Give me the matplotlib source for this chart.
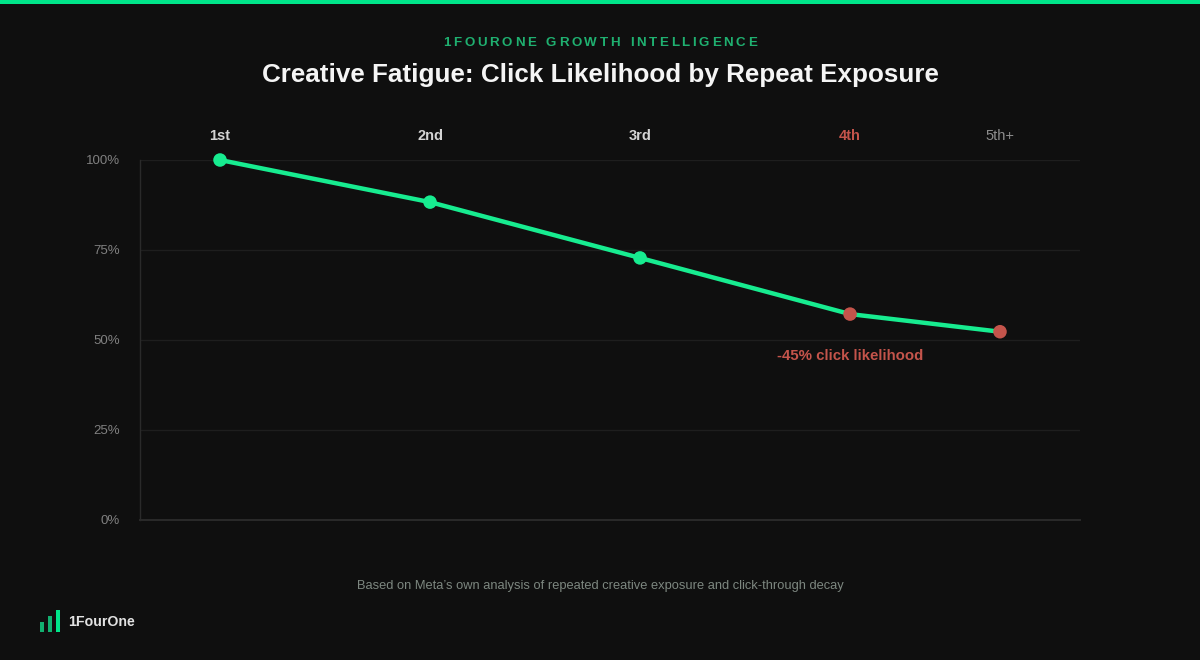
import matplotlib
matplotlib.use('Agg')
import matplotlib.pyplot as plt
from matplotlib.patches import Rectangle

plt.rcParams['font.family'] = ['Liberation Sans', 'DejaVu Sans']

# data
exposures = ['1st', '2nd', '3rd', '4th', '5th+']
click_likelihood = [100, 88.3, 72.8, 57.2, 52.3]
y_ticks = [0, 25, 50, 75, 100]
y_labels = ['0%', '25%', '50%', '75%', '100%']
drop_note = '-45% click likelihood'

# colours
BG = '#0f0f0f'
GREEN = '#17ec90'
RED = '#c4544b'
GRID = '#1e1e1e'

W, H = 1200, 660
fig = plt.figure(figsize=(W / 100, H / 100), dpi=100, facecolor=BG)

# top accent strip
fig.patches.append(Rectangle((0, 1 - 4 / H), 1, 4 / H, transform=fig.transFigure,
                             facecolor='#00e68a', edgecolor='none'))

# plot area in pixel terms: x 140..1080, y 160..520
ax = fig.add_axes([140 / W, 1 - 520 / H, 940 / W, 360 / H])
ax.set_facecolor(BG)

# uneven spacing of the categories (the last one sits closer)
x_pos = [0, 1, 2, 3, 3.714]
ax.set_xlim(-0.381, 4.095)
ax.set_ylim(0, 100)

ax.plot(x_pos, click_likelihood, color=GREEN, lw=3.2, zorder=3, clip_on=False,
        solid_capstyle='round')
pt_colors = [GREEN, GREEN, GREEN, RED, RED]
ax.scatter(x_pos, click_likelihood, s=95, c=pt_colors, zorder=4, clip_on=False,
           linewidths=0)

for t in y_ticks[1:]:
    ax.axhline(t, color=GRID, lw=1.0, zorder=1)
ax.set_yticks(y_ticks)
ax.set_yticklabels(y_labels)
ax.tick_params(axis='y', length=0, pad=14.4, labelsize=9.5, labelcolor='#808080')
ax.set_xticks([])

for side in ['top', 'right']:
    ax.spines[side].set_visible(False)
ax.spines['left'].set_color('#2a2a2a')
ax.spines['left'].set_linewidth(1.0)
ax.spines['bottom'].set_color('#2a2a2a')
ax.spines['bottom'].set_linewidth(1.4)

# category labels above the plot
lab_colors = ['#d4d4d4', '#d4d4d4', '#d4d4d4', RED, '#8c8c8c']
lab_weights = ['bold', 'bold', 'bold', 'bold', 'normal']
for x, lab, c, w in zip(x_pos, exposures, lab_colors, lab_weights):
    ax.annotate(lab, (x, 1), xycoords=('data', 'axes fraction'),
                xytext=(0, 26), textcoords='offset pixels', ha='center', va='center_baseline',
                fontsize=10.5, color=c, fontweight=w)

ax.annotate(drop_note, (x_pos[3], 50), xytext=(0, -14), textcoords='offset pixels',
            ha='center', va='center_baseline', fontsize=10.8, color=RED, fontweight='bold')

# kicker with letter spacing, placed char by char
kicker = '1FOURONE GROWTH INTELLIGENCE'
renderer = fig.canvas.get_renderer()
spacing = 2.65
widths = []
for ch in kicker:
    t = fig.text(0, 0, ch if ch != ' ' else 'n', fontsize=9.6, fontweight='bold')
    bb = t.get_window_extent(renderer)
    widths.append(bb.width * (0.55 if ch == ' ' else 1))
    t.remove()
total = sum(widths) + spacing * (len(kicker) - 1)
x = W / 2 - total / 2
for ch, w in zip(kicker, widths):
    if ch != ' ':
        fig.text(x / W, 1 - 41.5 / H, ch, fontsize=9.6, fontweight='bold',
                 color='#1fb070', ha='left', va='center_baseline')
    x += w + spacing

fig.text(0.5, 1 - 72.5 / H, 'Creative Fatigue: Click Likelihood by Repeat Exposure',
         ha='center', va='center_baseline', fontsize=18.7, fontweight='bold', color='#f5f5f5')

fig.text(0.5, 1 - 585 / H,
         "Based on Meta\u2019s own analysis of repeated creative exposure and click-through decay",
         ha='center', va='center_baseline', fontsize=9.3, color='#7d8780')

# logo: three little bars + wordmark
bar_h = [10, 16, 22]
bar_c = ['#12b070', '#12b070', '#00e68a']
for i, (bh, bc) in enumerate(zip(bar_h, bar_c)):
    fig.patches.append(Rectangle(((40 + 8 * i) / W, 1 - 632 / H), 4 / W, bh / H,
                                 transform=fig.transFigure, facecolor=bc, edgecolor='none'))
fig.text(68 / W, 1 - 622 / H, '1FourOne', ha='left', va='center', fontsize=10.2,
         fontweight='bold', color='#e2e2e2')

fig.savefig('out.png', dpi=100, facecolor=BG)
